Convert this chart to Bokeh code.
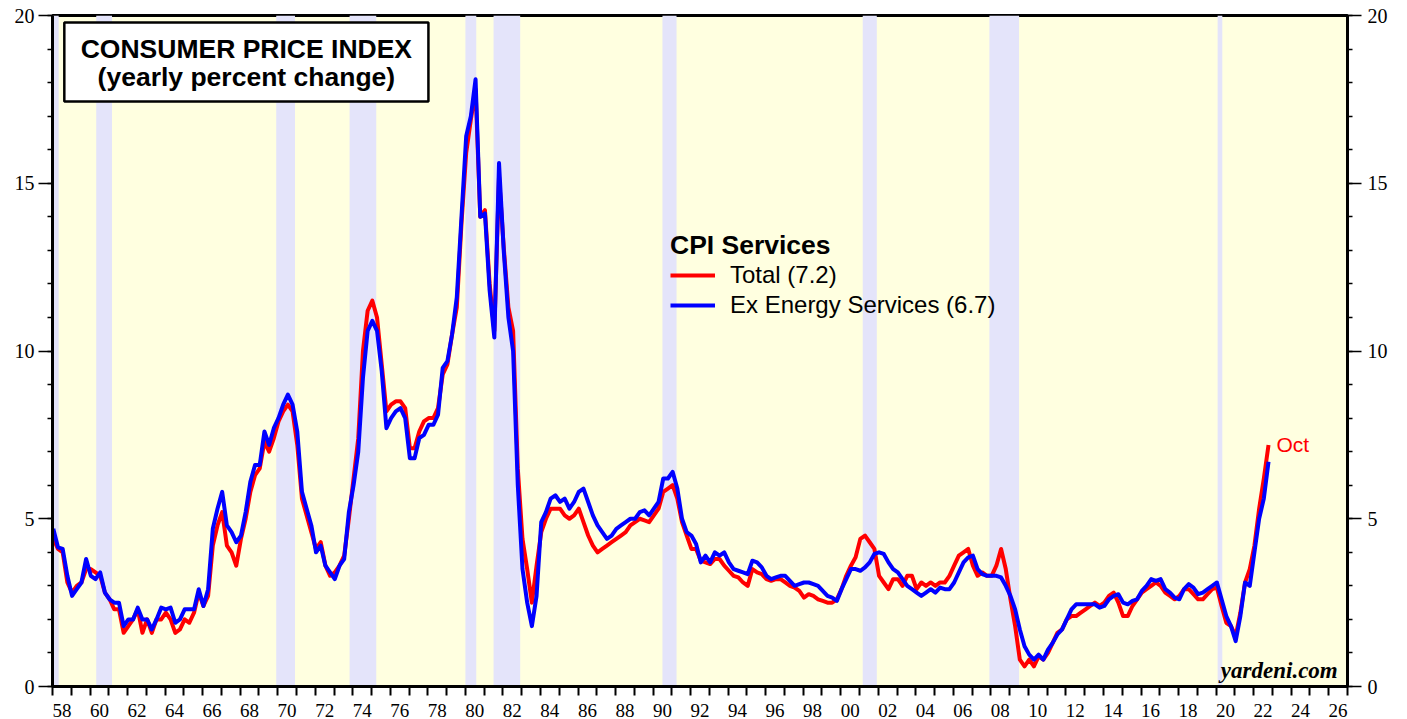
from bokeh.plotting import figure
from bokeh.models import (Range1d, LinearAxis, FixedTicker, CustomJSTickFormatter,
                          BoxAnnotation, Label, Legend, LegendItem)
from bokeh.embed import file_html
from bokeh.resources import INLINE

# ---------------- data (quarterly readings: Jan, Apr, Jul, Oct) ----------------
first_year = 1958
last_year = 2022
sample_months = [1, 4, 7, 10]

total = [
    4.4, 4.1, 4.0, 3.1,   # 1958
    2.8, 3.0, 3.1, 3.5,   # 1959
    3.5, 3.4, 3.3, 2.8,   # 1960
    2.6, 2.3, 2.3, 1.6,   # 1961
    1.8, 2.0, 2.3, 1.6,   # 1962
    2.0, 1.6, 2.0, 2.0,   # 1963
    2.2, 2.0, 1.6, 1.7,   # 1964
    2.0, 1.9, 2.2, 2.8,   # 1965
    2.4, 2.7, 4.2, 4.8,   # 1966
    5.2, 4.2, 4.0, 3.6,   # 1967
    4.4, 5.0, 5.8, 6.3,   # 1968
    6.5, 7.3, 7.0, 7.4,   # 1969
    7.9, 8.2, 8.4, 8.2,   # 1970
    7.2, 5.6, 5.1, 4.6,   # 1971
    4.1, 4.3, 3.6, 3.3,   # 1972
    3.4, 3.6, 3.9, 5.0,   # 1973
    6.2, 7.4, 10.0, 11.2, # 1974
    11.5, 11.0, 9.6, 8.2, # 1975
    8.4, 8.5, 8.5, 8.3,   # 1976
    7.1, 7.1, 7.6, 7.9,   # 1977
    8.0, 8.0, 8.3, 9.3,   # 1978
    9.6, 10.5, 11.3, 13.8,  # 1979
    15.9, 16.9, 17.8, 14.0, # 1980
    14.2, 12.0, 10.6, 15.2, # 1981
    13.1, 11.3, 10.6, 6.5,  # 1982
    4.4, 3.5, 2.5, 3.6,   # 1983
    4.6, 5.0, 5.3, 5.3,   # 1984
    5.3, 5.1, 5.0, 5.1,   # 1985
    5.3, 4.9, 4.5, 4.2,   # 1986
    4.0, 4.1, 4.2, 4.3,   # 1987
    4.4, 4.5, 4.6, 4.8,   # 1988
    4.9, 5.0, 4.95, 4.9,  # 1989
    5.1, 5.3, 5.8, 5.9,   # 1990
    6.0, 5.6, 4.9, 4.5,   # 1991
    4.1, 4.1, 3.75, 3.7,  # 1992
    3.65, 3.8, 3.8, 3.6,  # 1993
    3.45, 3.3, 3.25, 3.1, # 1994
    3.0, 3.5, 3.4, 3.35,  # 1995
    3.2, 3.15, 3.2, 3.2,  # 1996
    3.1, 3.0, 2.95, 2.85, # 1997
    2.65, 2.75, 2.7, 2.6, # 1998
    2.55, 2.5, 2.5, 2.6,  # 1999
    2.9, 3.3, 3.6, 3.85,  # 2000
    4.4, 4.5, 4.3, 4.1,   # 2001
    3.3, 3.1, 2.9, 3.2,   # 2002
    3.2, 3.0, 3.3, 3.3,   # 2003
    2.9, 3.1, 3.0, 3.1,   # 2004
    3.0, 3.1, 3.1, 3.3,   # 2005
    3.6, 3.9, 4.0, 4.1,   # 2006
    3.6, 3.3, 3.4, 3.3,   # 2007
    3.3, 3.6, 4.1, 3.5,   # 2008
    2.6, 1.8, 0.8, 0.6,   # 2009
    0.8, 0.6, 0.9, 0.8,   # 2010
    1.0, 1.3, 1.6, 1.7,   # 2011
    2.0, 2.1, 2.1, 2.2,   # 2012
    2.3, 2.4, 2.5, 2.4,   # 2013
    2.5, 2.7, 2.8, 2.5,   # 2014
    2.1, 2.1, 2.4, 2.6,   # 2015
    2.8, 2.9, 3.0, 3.1,   # 2016
    3.0, 2.8, 2.7, 2.6,   # 2017
    2.7, 2.9, 2.9, 2.75,  # 2018
    2.6, 2.6, 2.75, 2.9,  # 2019
    2.95, 2.4, 1.9, 1.8,  # 2020
    1.5, 2.2, 3.1, 3.5,   # 2021
    4.2, 5.3, 6.2, 7.2,   # 2022
]

ex_energy = [
    4.7, 4.15, 4.1, 3.3,  # 1958
    2.7, 2.9, 3.1, 3.8,   # 1959
    3.3, 3.2, 3.4, 2.8,   # 1960
    2.6, 2.5, 2.5, 1.8,   # 1961
    2.0, 2.0, 2.35, 2.0,  # 1962
    2.0, 1.7, 2.0, 2.35,  # 1963
    2.3, 2.35, 1.9, 2.0,  # 1964
    2.3, 2.3, 2.3, 2.9,   # 1965
    2.4, 2.9, 4.7, 5.3,   # 1966
    5.8, 4.8, 4.6, 4.3,   # 1967
    4.5, 5.2, 6.1, 6.6,   # 1968
    6.6, 7.6, 7.2, 7.7,   # 1969
    8.0, 8.4, 8.7, 8.4,   # 1970
    7.6, 5.8, 5.3, 4.8,   # 1971
    4.0, 4.2, 3.6, 3.4,   # 1972
    3.2, 3.6, 3.8, 5.2,   # 1973
    6.0, 7.0, 9.2, 10.6,  # 1974
    10.9, 10.6, 9.4, 7.7, # 1975
    8.0, 8.2, 8.3, 8.0,   # 1976
    6.8, 6.8, 7.4, 7.5,   # 1977
    7.8, 7.8, 8.1, 9.5,   # 1978
    9.7, 10.5, 11.6, 14.0,  # 1979
    16.4, 17.0, 18.1, 14.0, # 1980
    14.1, 11.8, 10.4, 15.6, # 1981
    13.0, 11.0, 10.0, 6.0,  # 1982
    3.5, 2.5, 1.8, 2.7,   # 1983
    4.9, 5.2, 5.6, 5.7,   # 1984
    5.5, 5.6, 5.3, 5.5,   # 1985
    5.8, 5.9, 5.5, 5.1,   # 1986
    4.8, 4.6, 4.4, 4.5,   # 1987
    4.7, 4.8, 4.9, 5.0,   # 1988
    5.0, 5.2, 5.25, 5.1,  # 1989
    5.3, 5.5, 6.2, 6.2,   # 1990
    6.4, 5.9, 5.0, 4.6,   # 1991
    4.5, 4.25, 3.7, 3.9,  # 1992
    3.7, 4.0, 3.9, 4.0,   # 1993
    3.7, 3.5, 3.45, 3.4,  # 1994
    3.35, 3.75, 3.7, 3.55,  # 1995
    3.3, 3.2, 3.25, 3.3,  # 1996
    3.3, 3.15, 3.0, 3.05, # 1997
    3.1, 3.1, 3.05, 3.0,  # 1998
    2.85, 2.7, 2.65, 2.55,  # 1999
    2.9, 3.2, 3.5, 3.5,   # 2000
    3.45, 3.55, 3.7, 3.95,  # 2001
    4.0, 3.95, 3.7, 3.5,  # 2002
    3.4, 3.2, 3.0, 2.9,   # 2003
    2.8, 2.7, 2.8, 2.9,   # 2004
    2.8, 2.95, 2.9, 2.9,  # 2005
    3.1, 3.4, 3.7, 3.85,  # 2006
    3.9, 3.5, 3.35, 3.3,  # 2007
    3.3, 3.3, 3.25, 3.0,  # 2008
    2.7, 2.3, 1.7, 1.2,   # 2009
    0.95, 0.8, 0.95, 0.8, # 2010
    1.1, 1.3, 1.55, 1.7,  # 2011
    2.0, 2.3, 2.45, 2.45, # 2012
    2.45, 2.45, 2.45, 2.35, # 2013
    2.4, 2.6, 2.7, 2.75,  # 2014
    2.5, 2.45, 2.55, 2.6, # 2015
    2.85, 3.0, 3.2, 3.15, # 2016
    3.2, 2.9, 2.8, 2.65,  # 2017
    2.6, 2.9, 3.05, 2.95, # 2018
    2.75, 2.8, 2.9, 3.0,  # 2019
    3.1, 2.6, 2.1, 1.8,   # 2020
    1.35, 2.1, 3.1, 3.0,  # 2021
    4.0, 5.0, 5.6, 6.7,   # 2022
]

# NBER recessions (decimal years)
recession_start = [1957.58, 1960.33, 1969.92, 1973.83, 1980.00, 1981.50, 1990.50, 2001.17, 2007.92, 2020.08]
recession_end   = [1958.33, 1961.17, 1970.92, 1975.25, 1980.58, 1982.92, 1991.25, 2001.92, 2009.50, 2020.33]

x_start, x_end = 1958, 2027
y_ticks = [0, 5, 10, 15, 20]
last_month_label = "Oct"

# time axis (mid-month of each sampled month)
t = [yr + (m - 0.5) / 12.0 for yr in range(first_year, last_year + 1) for m in sample_months]

SERIF = "Liberation Serif"
SANS = "Liberation Sans"

p = figure(width=1407, height=719, output_backend="svg", toolbar_location=None,
           x_range=Range1d(x_start, x_end), y_range=Range1d(0, 20),
           x_axis_location=None, y_axis_location=None,
           min_border_left=52, min_border_right=60, min_border_top=15, min_border_bottom=32)
p.background_fill_color = "#FFFFE0"
p.border_fill_color = "white"
p.outline_line_color = "black"
p.outline_line_width = 3
p.xgrid.visible = False
p.ygrid.visible = False

# recession shading
p.quad(left=recession_start, right=recession_end, bottom=0, top=20,
       fill_color="#E4E4FA", line_color=None, level="underlay")

# series
r_total = p.line(t, total, line_color="#FF0000", line_width=4, line_join="round")
r_ex = p.line(t, ex_energy, line_color="#0000FF", line_width=4, line_join="round")

# axes
def style_y(ax):
    ax.ticker = FixedTicker(ticks=y_ticks, minor_ticks=list(range(0, 21)))
    ax.axis_line_width = 3
    ax.major_tick_out = 14
    ax.major_tick_in = 0
    ax.minor_tick_out = 5
    ax.minor_tick_in = 0
    ax.major_tick_line_width = 1.5
    ax.minor_tick_line_width = 1.5
    ax.major_label_text_font = SERIF
    ax.major_label_text_font_size = "20px"
    ax.major_label_text_color = "black"
    ax.major_label_standoff = 4

yl = LinearAxis()
style_y(yl)
p.add_layout(yl, "left")
yr_ax = LinearAxis()
style_y(yr_ax)
yr_ax.major_label_standoff = 6
p.add_layout(yr_ax, "right")

xa = LinearAxis()
xa.ticker = FixedTicker(ticks=[y + 0.5 for y in range(x_start, x_end, 2)],
                        minor_ticks=list(range(x_start, x_end + 1)))
xa.formatter = CustomJSTickFormatter(code="return String(Math.floor(tick) % 100).padStart(2, '0');")
xa.axis_line_width = 3
xa.major_tick_out = 0
xa.major_tick_in = 0
xa.minor_tick_out = 9
xa.minor_tick_in = 0
xa.minor_tick_line_width = 2
xa.major_label_text_font = SERIF
xa.major_label_text_font_size = "19px"
xa.major_label_text_color = "black"
xa.major_label_standoff = 8
p.add_layout(xa, "below")

# title box
p.add_layout(BoxAnnotation(left=1958.63, right=1978.03, bottom=17.44, top=19.79,
                           fill_color="white", fill_alpha=1.0, line_color="black",
                           line_alpha=1.0, line_width=2.5, level="overlay"))
p.add_layout(Label(x=1968.33, y=18.99, text="CONSUMER PRICE INDEX", text_align="center",
                   text_baseline="middle", text_font=SANS, text_font_style="bold",
                   text_font_size="26.5px", text_color="black", level="overlay"))
p.add_layout(Label(x=1968.33, y=18.18, text="(yearly percent change)", text_align="center",
                   text_baseline="middle", text_font=SANS, text_font_style="bold",
                   text_font_size="26.5px", text_color="black", level="overlay"))

# legend
legend = Legend(items=[LegendItem(label=f"Total ({total[-1]:.1f})", renderers=[r_total]),
                       LegendItem(label=f"Ex Energy Services ({ex_energy[-1]:.1f})", renderers=[r_ex])],
                title="CPI Services", location=(618, 367),
                title_text_font=SANS, title_text_font_style="bold", title_text_font_size="26.5px",
                title_text_color="black", title_standoff=0,
                label_text_font=SANS, label_text_font_size="24px", label_text_color="black",
                glyph_width=45, glyph_height=20, label_height=20, spacing=2,
                label_standoff=15, padding=0, margin=0,
                border_line_alpha=0, background_fill_alpha=0)
p.add_layout(legend)

# end label
p.add_layout(Label(x=t[-1], y=total[-1], x_offset=8, text=last_month_label,
                   text_baseline="middle", text_font=SANS, text_font_size="21px",
                   text_color="#FF0000"))

# source
p.add_layout(Label(x=2026.48, y=0.09, text="yardeni.com", text_align="right",
                   text_baseline="bottom", text_font=SERIF, text_font_style="bold italic",
                   text_font_size="23px", text_color="black"))

open("out.html", "w").write(file_html(p, INLINE))
